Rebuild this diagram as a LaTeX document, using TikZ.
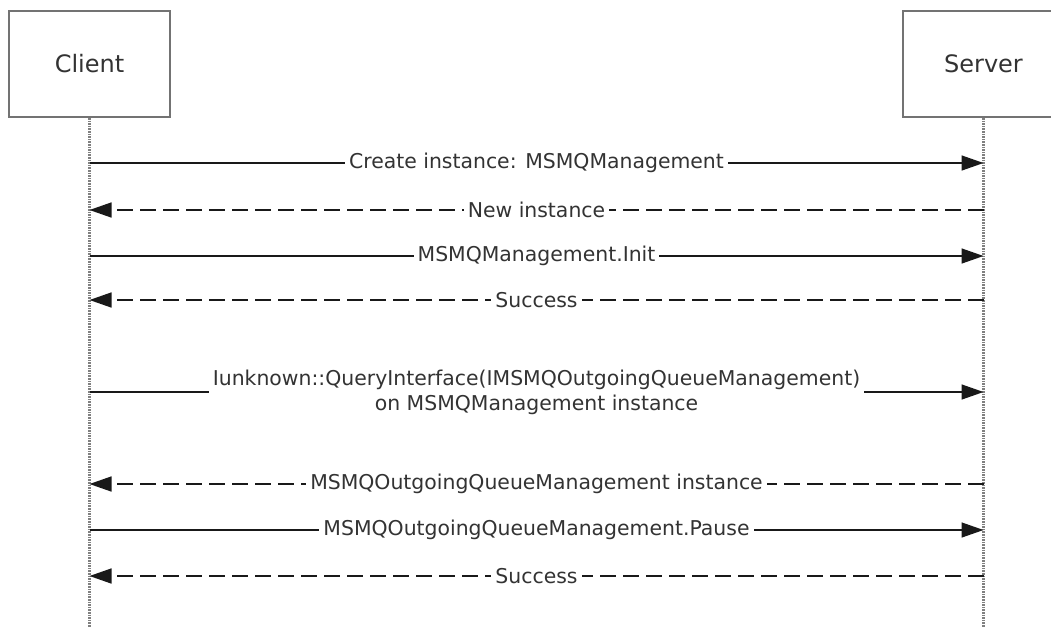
\documentclass[tikz,border=0pt]{standalone}
\usepackage{fontspec}
\setmainfont{DejaVu Sans}
\usetikzlibrary{arrows.meta}
\begin{document}
\begin{tikzpicture}[x=1pt,y=-1pt,
  lifebox/.style={draw=black!55, line width=2pt, fill=white, minimum width=161pt, minimum height=106pt, inner sep=0pt, text=black!80, font=\fontsize{24}{29}\selectfont},
  lifeline/.style={draw=black!50, line width=2.6pt, dash pattern=on 1.6pt off 1pt},
  msg/.style={line width=1.5pt, draw=black!90, -{Triangle[length=22pt,width=15pt]}},
  reply/.style={msg, dash pattern=on 16pt off 7pt},
  lbl/.style={fill=white, inner xsep=4pt, inner ysep=1pt, text=black!80, align=center, font=\fontsize{20.4}{25}\selectfont}]
\useasboundingbox (0,0) rectangle (1051,627);
\clip (0,0) rectangle (1051,627);
\node[lifebox] (client) at (89.5,64) {Client};
\node[lifebox] (server) at (983.5,64) {Server};
\coordinate (cend) at (89.5,627);
\coordinate (send) at (983.5,627);
\draw[lifeline] (client.south) -- (cend);
\draw[lifeline] (server.south) -- (send);
\foreach \n/\y in {1/163,2/210,3/256,4/300,5/392,6/484,7/530,8/576}{
  \coordinate (c\n) at (89.5,\y);
  \coordinate (s\n) at (983.5,\y);
}
\draw[msg] (c1) -- node[lbl]{Create instance: MSMQManagement} (s1);
\draw[reply] (s2) -- node[lbl]{New instance} (c2);
\draw[msg] (c3) -- node[lbl]{MSMQManagement.Init} (s3);
\draw[reply] (s4) -- node[lbl]{Success} (c4);
\draw[msg] (c5) -- node[lbl]{Iunknown::QueryInterface(IMSMQOutgoingQueueManagement)\\on MSMQManagement instance} (s5);
\draw[reply] (s6) -- node[lbl]{MSMQOutgoingQueueManagement instance} (c6);
\draw[msg] (c7) -- node[lbl]{MSMQOutgoingQueueManagement.Pause} (s7);
\draw[reply] (s8) -- node[lbl]{Success} (c8);
\end{tikzpicture}
\end{document}
